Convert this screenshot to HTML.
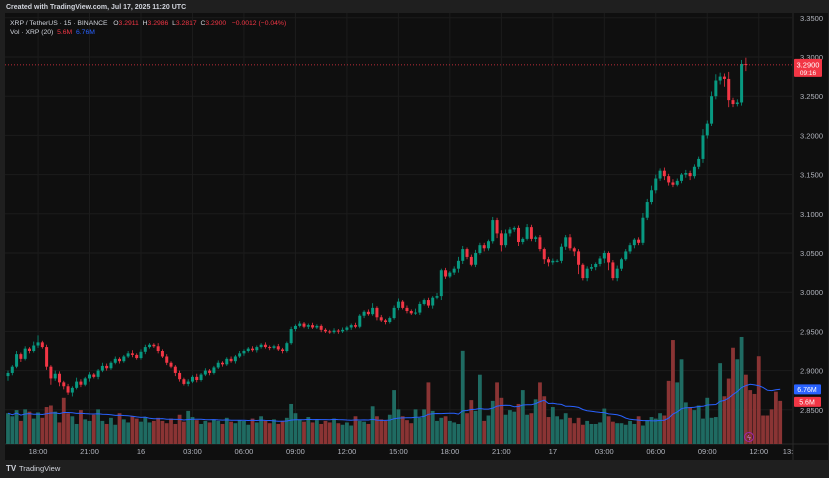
<!DOCTYPE html>
<html><head><meta charset="utf-8">
<style>
html,body{margin:0;padding:0;background:#1f1f1f;width:829px;height:478px;overflow:hidden;font-family:"Liberation Sans",sans-serif}
#wrap{position:relative;width:829px;height:478px}
svg{position:absolute;left:0;top:0}
.pre{white-space:pre}
</style></head><body>
<div id="wrap">
<svg id="chart" width="829" height="478"></svg>
</div>
<script>
const times=["18:00","21:00","16","03:00","06:00","09:00","12:00","15:00","18:00","21:00","17","03:00","06:00","09:00","12:00"];
const priceTicks=[3.35,3.30,3.25,3.20,3.15,3.10,3.05,3.00,2.95,2.90,2.85];
const closes=[2.897,2.905,2.921,2.915,2.928,2.925,2.932,
2.936,2.930,2.905,2.890,2.896,2.885,2.880,2.872,2.878,2.886,2.882,2.890,
2.895,2.892,2.900,2.906,2.903,2.910,2.915,2.912,2.918,2.922,2.920,2.916,
2.924,2.930,2.933,2.931,2.925,2.918,2.910,2.905,2.897,2.889,2.883,2.886,
2.892,2.888,2.895,2.900,2.897,2.904,2.910,2.908,2.915,2.912,2.918,2.922,
2.925,2.928,2.926,2.930,2.933,2.930,2.929,2.931,2.927,2.925,2.935,2.953,
2.957,2.960,2.956,2.958,2.955,2.957,2.952,2.950,2.949,2.951,2.950,2.952,
2.955,2.958,2.956,2.970,2.975,2.972,2.980,2.968,2.964,2.962,2.967,2.980,
2.988,2.980,2.976,2.973,2.974,2.985,2.990,2.983,2.993,2.995,3.028,3.020,
3.025,3.030,3.040,3.055,3.045,3.035,3.050,3.060,3.056,3.065,3.092,3.075,
3.060,3.075,3.080,3.082,3.064,3.068,3.083,3.068,3.070,3.055,3.042,3.038,
3.040,3.040,3.058,3.070,3.056,3.052,3.035,3.018,3.030,3.032,3.036,3.043,
3.050,3.038,3.018,3.030,3.042,3.052,3.060,3.067,3.063,3.095,3.115,3.130,
3.145,3.155,3.148,3.140,3.137,3.142,3.150,3.152,3.148,3.160,3.170,3.200,
3.215,3.250,3.270,3.275,3.272,3.245,3.240,3.242,3.2911,3.290];
const wickUp=[3,2,4,2,3,2,5,9,2,3,2,4,3,2,3,2,5,3,2,3,2,2,4,3,2,3,2,2,3,4,2,3,3,2,2,4,2,3,2,2,3,2,3,2,4,2,3,2,2,3,2,2,3,2,3,2,2,3,2,2,3,2,2,3,2,2,3,2,3,2,2,3,2,2,2,2,3,2,3,2,2,3,2,2,3,6,2,3,2,2,3,4,2,3,2,5,3,2,3,2,4,2,3,2,3,5,4,2,3,4,3,3,2,4,3,4,5,3,2,3,2,4,3,2,3,2,3,3,2,4,3,4,2,3,2,3,4,2,3,3,2,3,4,2,3,3,2,3,6,4,6,5,3,4,3,4,3,2,4,3,3,3,8,4,6,8,5,4,9,3,4,5,8];
const wickDn=[6,3,2,4,2,3,2,3,2,4,8,3,5,4,3,5,2,3,2,4,2,3,2,3,2,2,3,2,2,3,2,2,3,2,2,3,2,3,2,4,3,2,3,2,3,2,2,3,2,2,3,2,2,3,2,3,2,2,3,2,2,3,2,2,3,2,2,3,2,2,3,2,2,3,2,2,2,3,2,2,3,2,2,3,2,2,4,2,3,2,2,3,2,3,2,2,3,2,3,4,2,5,3,2,3,5,4,3,2,3,2,4,3,3,6,8,3,4,3,5,3,2,3,4,3,6,5,3,2,3,4,3,6,12,3,4,3,4,3,6,10,3,4,3,2,3,4,3,3,3,3,4,3,5,4,3,2,3,4,5,3,3,5,4,3,4,5,10,9,4,3,4,8];
const volumes=[4.0,3.6,4.4,3.0,4.5,4.2,3.3,4.1,3.4,4.8,5.0,4.2,2.8,6.0,4.0,3.6,2.6,4.4,3.2,3.0,3.8,4.5,3.0,2.6,3.4,2.5,4.0,3.2,2.8,3.6,3.3,2.9,3.5,2.8,3.0,3.4,3.0,2.7,3.3,2.6,3.8,2.9,4.3,3.5,3.1,2.6,3.0,2.8,3.2,3.0,2.6,3.4,2.9,2.7,3.1,3.0,2.5,3.3,2.8,3.6,3.0,2.7,3.2,2.6,3.0,3.4,5.2,4.0,3.2,2.9,3.5,2.8,3.1,2.6,3.0,2.8,3.3,2.7,2.5,2.8,2.4,3.6,3.0,2.9,2.6,4.9,3.6,3.2,3.0,3.8,7.0,4.5,3.6,3.1,2.7,4.5,3.4,4.5,8.0,4.3,3.0,3.4,3.6,3.0,2.8,2.6,12.1,4.0,5.7,4.3,9.0,3.0,3.7,5.6,8.0,6.0,3.8,4.4,4.2,5.2,7.0,3.8,4.0,5.8,8.0,6.2,3.5,4.8,3.6,3.2,4.0,3.4,2.7,3.4,2.5,3.0,2.6,2.6,2.8,4.6,3.6,2.9,2.7,2.7,2.5,3.0,2.6,3.6,2.4,3.1,3.5,3.3,4.0,3.7,8.2,13.5,8.0,11.0,5.4,4.8,4.4,5.0,3.3,6.0,3.4,3.5,10.5,6.2,8.5,12.5,11.0,13.9,9.0,7.0,6.5,11.4,3.7,3.7,4.5,6.8,5.6];
</script>
<script>
const svg=document.getElementById('chart');
const NS='http://www.w3.org/2000/svg';
const PL=5,PR=793,PT=13,PB=444;
function yP(p){return 57+(3.3-p)*784;}
function xC(i){return 8+i*4.29;}
function yV(v){return 444-v*7.7;}
function mk(tag,attrs,parent){const e=document.createElementNS(NS,tag);for(const k in attrs)e.setAttribute(k,attrs[k]);(parent||svg).appendChild(e);return e;}
let e=mk('rect',{x:0,y:0,width:829,height:478,fill:'#1f1f1f'});


e=mk('rect',{x:PL,y:PT,width:823,height:447,fill:'#0f0f0f'});


e=mk('line',{x1:PR,y1:PT,x2:PR,y2:460,stroke:'#2a2a2a'});


e=mk('line',{x1:PL,y1:PB,x2:828,y2:PB,stroke:'#2a2a2a'});


priceTicks.forEach(p=>{
  const y=yP(p);
  let g=mk('line',{x1:PL,y1:y,x2:PR,y2:y,stroke:'#1c1c1c'});
  
  
  let t=mk('text',{x:823,y:y+3,fill:'#b2b5be','font-size':7.5,'text-anchor':'end'});
  t.textContent=p.toFixed(4);
  
  
});
times.forEach((s,k)=>{
  const x=xC(7+k*12);
  let g=mk('line',{x1:x,y1:PT,x2:x,y2:PB,stroke:'#1c1c1c'});
  
  
  let t=mk('text',{x:x,y:454,fill:'#b2b5be','font-size':7.5,'text-anchor':'middle'});
  t.textContent=s;
  
  
});
let t13=mk('text',{x:788,y:454,fill:'#b2b5be','font-size':7.5,'text-anchor':'middle'});
t13.textContent='13:';


volumes.forEach((v,i)=>{
  const o=i?closes[i-1]:2.893, up=closes[i]>=o;
  const r=mk('rect',{x:xC(i)-1.9,y:yV(v),width:3.8,height:444-yV(v),fill:up?'#1f6b62':'#8a3434'});
  
  
});
let pts=[];
volumes.forEach((v,i)=>{const s=volumes.slice(Math.max(0,i-19),i+1);const m=s.reduce((a,b)=>a+b,0)/s.length;pts.push(xC(i).toFixed(1)+','+yV(m).toFixed(1));});
let ma=mk('polyline',{points:pts.join(' '),fill:'none',stroke:'#2962ff','stroke-width':1});


closes.forEach((c,i)=>{
  const o=i?closes[i-1]:2.893, up=c>=o, col=up?'#089981':'#f23645';
  const hi=Math.max(o,c)+wickUp[i]*0.001, lo=Math.min(o,c)-wickDn[i]*0.001;
  const x=xC(i);
  let w=mk('line',{x1:x,y1:yP(hi),x2:x,y2:yP(lo),stroke:col,'stroke-width':0.8});
  
  
  const yt=yP(Math.max(o,c)), yb=yP(Math.min(o,c));
  let b=mk('rect',{x:x-1.5,y:yt,width:3,height:Math.max(1,yb-yt),fill:col});
  
  
});
const last=closes[closes.length-1], yl=yP(last);
let pl=mk('line',{x1:PL,y1:yl,x2:PR,y2:yl,stroke:'#f23645','stroke-width':0.7,'stroke-dasharray':'1,2'});


let pb=mk('rect',{x:794,y:yl-6,width:28,height:18,fill:'#f23645',rx:1});


let pt1=mk('text',{x:808,y:yl+2.5,fill:'#fff','font-size':7.5,'text-anchor':'middle'});pt1.textContent=last.toFixed(4);


let pt2=mk('text',{x:808,y:yl+10,fill:'#fff','font-size':6.5,'text-anchor':'middle'});pt2.textContent='09:16';


const lastMA=volumes.slice(-20).reduce((a,b)=>a+b,0)/20;
let vb1=mk('rect',{x:794,y:yV(lastMA)-5,width:27,height:10,fill:'#2962ff',rx:1});


let vt1=mk('text',{x:807,y:yV(lastMA)+2.5,fill:'#fff','font-size':7,'text-anchor':'middle'});vt1.textContent='6.76M';


let vb2=mk('rect',{x:794,y:yV(volumes[volumes.length-1])-4,width:27,height:10,fill:'#f23645',rx:1});


let vt2=mk('text',{x:807,y:yV(volumes[volumes.length-1])+3.5,fill:'#fff','font-size':7,'text-anchor':'middle'});vt2.textContent='5.6M';


let li=mk('circle',{cx:749,cy:437,r:4.5,fill:'none',stroke:'#9c27b0','stroke-width':1});


let lt=mk('text',{x:749,y:440,fill:'#c77dd6','font-size':7,'text-anchor':'middle'});lt.textContent='ϟ';


function txt(x,y,s,fill,size,name,weight){const t=mk('text',{x:x,y:y,fill:fill,'font-size':size,'font-weight':weight||'normal'});t.textContent=s;return t;}
txt(6,9,'Created with TradingView.com, Jul 17, 2025 11:20 UTC','#d1d4dc',7,'created-caption','bold');
const leg=mk('text',{x:10,y:25,'font-size':6.8,fill:'#d1d4dc',class:'pre'});


leg.innerHTML='XRP / TetherUS · 15 · BINANCE   O<tspan fill="#f23645">3.2911</tspan>  H<tspan fill="#f23645">3.2986</tspan>  L<tspan fill="#f23645">3.2817</tspan>  C<tspan fill="#f23645">3.2900   −0.0012 (−0.04%)</tspan>';
const vl=mk('text',{x:10,y:34,'font-size':6.8,fill:'#d1d4dc',class:'pre'});


vl.innerHTML='Vol · XRP (20)  <tspan fill="#f23645">5.6M</tspan>  <tspan fill="#2962ff">6.76M</tspan>';
txt(6,471,'TV','#d1d4dc',8,'tradingview-logo-mark','bold');
txt(19,471,'TradingView','#d1d4dc',7.5,'tradingview-logo-text');
</script>
</body></html>
